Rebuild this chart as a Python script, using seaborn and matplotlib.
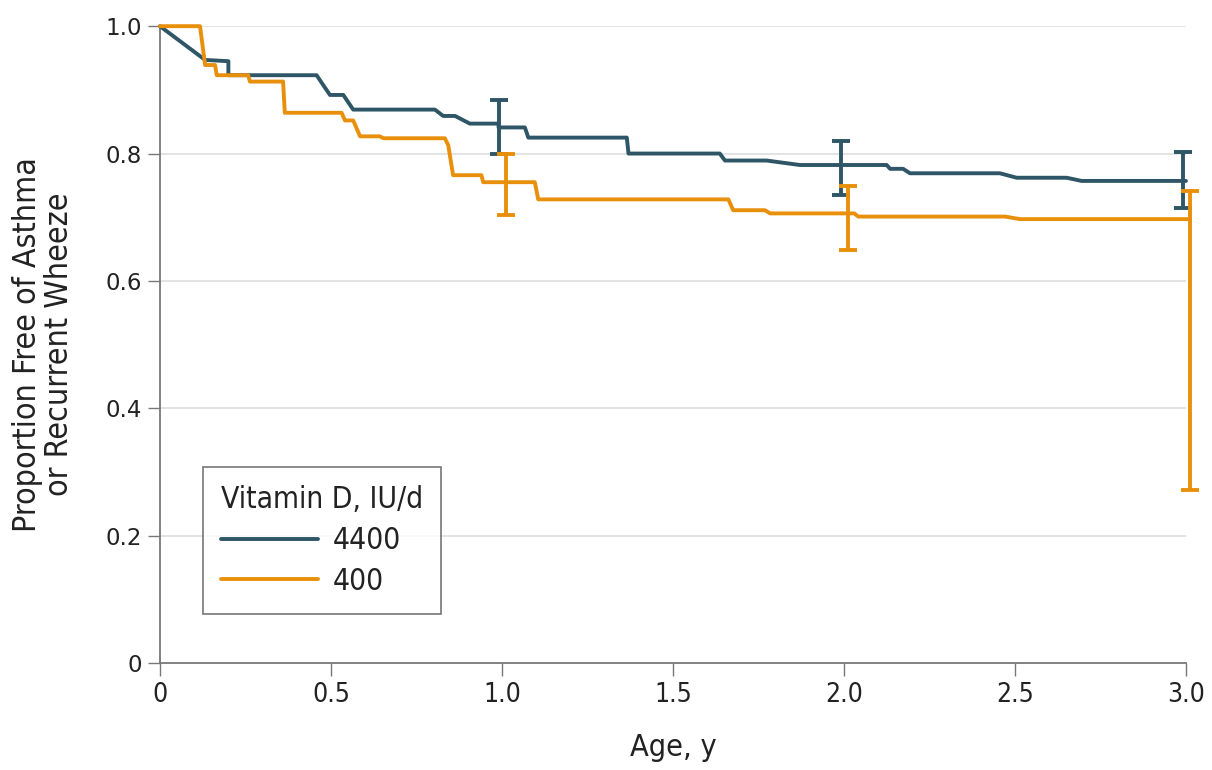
import numpy as np
import pandas as pd
import seaborn as sns
import matplotlib
matplotlib.use("Agg")
import matplotlib.pyplot as plt
from matplotlib import font_manager

# ------------------ Datos ------------------
# Vitamina D 4400 IU/d
t_4400 = [0, 0.132, 0.2, 0.2, 0.458, 0.478, 0.497, 0.536, 0.565, 0.804, 0.828, 0.863,
          0.906, 0.99, 0.99, 1.067, 1.077, 1.365, 1.37, 1.637, 1.652, 1.774, 1.871,
          2.125, 2.135, 2.173, 2.193, 2.456, 2.505, 2.651, 2.695, 3.0]
s_4400 = [1.0, 0.947, 0.945, 0.923, 0.923, 0.907, 0.892, 0.892, 0.869, 0.869, 0.859, 0.859,
          0.847, 0.847, 0.841, 0.841, 0.825, 0.825, 0.800, 0.800, 0.789, 0.789, 0.782,
          0.782, 0.776, 0.776, 0.769, 0.769, 0.762, 0.762, 0.757, 0.757]

# Vitamina D 400 IU/d
t_400 = [0, 0.117, 0.132, 0.161, 0.166, 0.258, 0.263, 0.36, 0.365, 0.531, 0.541, 0.565,
         0.585, 0.643, 0.653, 0.833, 0.843, 0.857, 0.94, 0.945, 1.096, 1.106, 1.662,
         1.676, 1.769, 1.784, 2.03, 2.042, 2.471, 2.515, 3.012]
s_400 = [1.0, 1.0, 0.939, 0.939, 0.923, 0.923, 0.913, 0.913, 0.864, 0.864, 0.852, 0.852,
         0.827, 0.827, 0.824, 0.824, 0.813, 0.766, 0.766, 0.755, 0.755, 0.728, 0.728,
         0.711, 0.711, 0.706, 0.706, 0.701, 0.701, 0.697, 0.697]

# Intervalos de confianza
ci_t_4400 = [0.99, 1.99, 2.99]
ci_lo_4400 = [0.800, 0.735, 0.715]
ci_hi_4400 = [0.884, 0.820, 0.802]

ci_t_400 = [1.012, 2.013, 3.012]
ci_lo_400 = [0.703, 0.648, 0.272]
ci_hi_400 = [0.800, 0.749, 0.741]

grupos = ["4400", "400"]
colores = {"4400": "#2e5666", "400": "#e8900c"}

x_ticks = [0, 0.5, 1.0, 1.5, 2.0, 2.5, 3.0]
x_labels = ["0", "0.5", "1.0", "1.5", "2.0", "2.5", "3.0"]
y_ticks = [0, 0.2, 0.4, 0.6, 0.8, 1.0]
y_labels = ["0", "0.2", "0.4", "0.6", "0.8", "1.0"]

# ------------------ Fuentes ------------------
nombres = {f.name for f in font_manager.fontManager.ttflist}
if "Liberation Sans Narrow" in nombres:
    fuente_cond = dict(family=["Liberation Sans Narrow", "DejaVu Sans"])
elif "DejaVu Sans Condensed" in nombres:
    fuente_cond = dict(family=["DejaVu Sans Condensed", "DejaVu Sans"])
else:
    fuente_cond = dict(family=["DejaVu Sans"], stretch="condensed")

sns.set_style("white")
plt.rcParams["font.family"] = ["DejaVu Sans"]

df = pd.concat([
    pd.DataFrame({"Edad": t_4400, "Prop": s_4400, "Grupo": "4400"}),
    pd.DataFrame({"Edad": t_400, "Prop": s_400, "Grupo": "400"}),
])

fig = plt.figure(figsize=(12.12, 7.7), dpi=100)
ax = fig.add_axes([0.132, 0.139, 0.8465, 0.827])

for y in y_ticks[1:]:
    ax.axhline(y, color="#e0e0e0", lw=1.3, zorder=0)

sns.lineplot(data=df, x="Edad", y="Prop", hue="Grupo", hue_order=grupos,
             palette=colores, sort=False, estimator=None, lw=2.8, ax=ax,
             clip_on=False, zorder=3)

for t, lo, hi, g in [(ci_t_4400, ci_lo_4400, ci_hi_4400, "4400"),
                     (ci_t_400, ci_lo_400, ci_hi_400, "400")]:
    lo = np.array(lo)
    hi = np.array(hi)
    ax.errorbar(t, (lo + hi) / 2, yerr=(hi - lo) / 2, fmt="none",
                ecolor=colores[g], elinewidth=2.8, capsize=6.5, capthick=2.8,
                clip_on=False, zorder=4)

ax.set_xlim(0, 3.0)
ax.set_ylim(0, 1.0)
ax.set_xticks(x_ticks)
ax.set_xticklabels(x_labels, fontsize=19, color="#222222", **fuente_cond)
ax.set_yticks(y_ticks)
ax.set_yticklabels(y_labels, fontsize=16.5, color="#222222")
ax.tick_params(axis="both", direction="out", length=9, width=1, color="#777777",
               left=True, bottom=True)
ax.tick_params(axis="y", pad=4)
ax.tick_params(axis="x", pad=5)

sns.despine(ax=ax)
for lado in ["left", "bottom"]:
    ax.spines[lado].set_color("#777777")
    ax.spines[lado].set_linewidth(1.3)

ax.set_xlabel("Age, y", fontsize=22, color="#222222", labelpad=18, **fuente_cond)
ax.set_ylabel("Proportion Free of Asthma\nor Recurrent Wheeze", fontsize=23,
              color="#222222", labelpad=22, linespacing=1.05, **fuente_cond)

handles, labels = ax.get_legend_handles_labels()
prop_leg = font_manager.FontProperties(size=21.5, **fuente_cond)
leg = ax.legend(handles, labels, title="Vitamin D, IU/d", loc="upper left",
                bbox_to_anchor=(0.042, 0.308), borderaxespad=0, frameon=True,
                fancybox=False, handlelength=3.25, handletextpad=0.5,
                borderpad=0.6, labelspacing=0.38, prop=prop_leg)
leg.get_title().set_fontproperties(font_manager.FontProperties(size=21.5, **fuente_cond))
leg._legend_box.align = "left"
leg._legend_box.sep = 9
leg.get_frame().set_edgecolor("#555555")
leg.get_frame().set_linewidth(1.2)
for texto in leg.get_texts():
    texto.set_color("#222222")
leg.get_title().set_color("#222222")

plt.savefig("out.png", dpi=100)
